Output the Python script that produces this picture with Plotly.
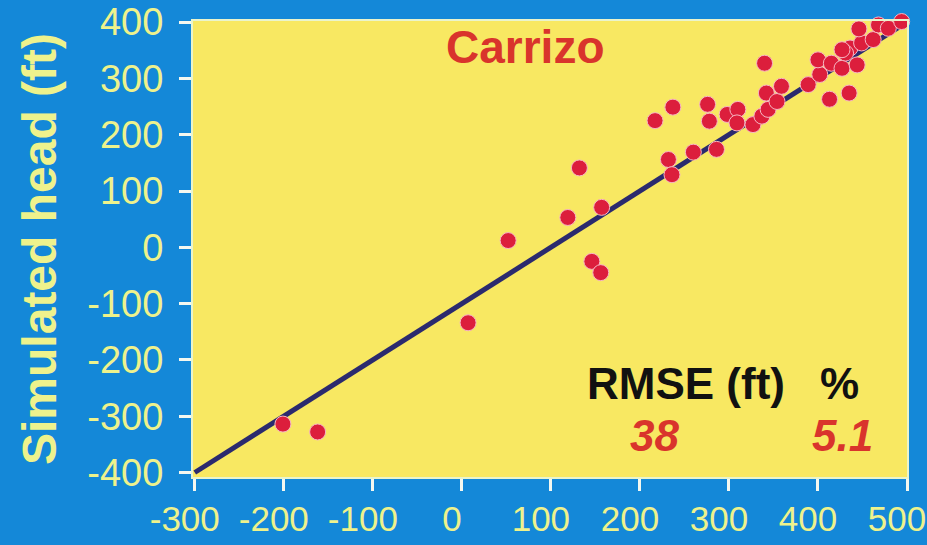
import plotly.graph_objects as go

# Observed (x) vs simulated (y) head, ft
observed = [-201, -162, 7, 52, 119, 132, 146, 156, 157, 217, 237, 232, 236, 260, 276, 278,
            286, 298, 310, 309, 327, 337, 344, 342, 354, 359, 340, 389, 402, 400, 415,
            427, 444, 413, 435, 436, 431, 427, 449, 462, 446, 468, 479, 494]
simulated = [-314, -328, -134, 12, 53, 141, -25, -45, 71, 225, 249, 156, 129, 169, 254, 224,
             174, 236, 245, 221, 218, 233, 245, 274, 259, 286, 327, 289, 307, 333, 327,
             318, 324, 263, 274, 354, 345, 351, 363, 369, 388, 395, 389, 401]

line_x = [-300, 500]
line_y = [-400, 400]

x_ticks = [-300, -200, -100, 0, 100, 200, 300, 400, 500]
y_ticks = [-400, -300, -200, -100, 0, 100, 200, 300, 400]
x_labels = [str(v) for v in x_ticks]
y_labels = [str(v) for v in y_ticks]

BLUE = "#1488d8"
YELLOW = "#f8e862"
LABEL = "#eef28c"
RED = "#d9342c"
FONT = "Liberation Sans"

fig = go.Figure()
fig.add_trace(go.Scatter(x=line_x, y=line_y, mode="lines",
                         line=dict(color="#2b2a6e", width=5), hoverinfo="skip"))
fig.add_trace(go.Scatter(x=observed, y=simulated, mode="markers", cliponaxis=False,
                         marker=dict(size=16, color="#dc1e3c",
                                     line=dict(color="#f6b8c4", width=1))))

axis_common = dict(
    showgrid=False, zeroline=False, automargin=False,
    showline=True, linecolor="#eaf4cc", linewidth=2, mirror=True,
    ticks="outside", ticklen=12, tickwidth=3, tickcolor="#f4f8f0",
)


def note(text, x, y, size, color, italic=False):
    font = dict(family=FONT, size=size, color=color, weight="bold")
    if italic:
        font["style"] = "italic"
    return dict(text=text, x=x, y=y, xref="paper", yref="paper", showarrow=False,
                xanchor="center", yanchor="middle", font=font)


fig.update_layout(
    width=927, height=545,
    paper_bgcolor=BLUE, plot_bgcolor=YELLOW,
    margin=dict(l=193, r=20, t=21, b=68),
    showlegend=False,
    xaxis=dict(range=[-302, 500], tickvals=x_ticks, ticktext=x_labels, tickangle=0,
               ticklabelstandoff=-2, ticklabelshift=-10, ticklabeloverflow="allow",
               tickfont=dict(family=FONT, size=35, color=LABEL),
               **axis_common),
    yaxis=dict(range=[-408, 402], tickvals=y_ticks, ticktext=y_labels,
               ticklabelstandoff=8,
               tickfont=dict(family=FONT, size=38, color=LABEL),
               title=dict(text="Simulated head (ft)", standoff=16,
                          font=dict(family=FONT, size=48, color=LABEL, weight="bold")),
               **axis_common),
    annotations=[
        note("Carrizo", 0.465, 0.943, 46, RED),
        note("RMSE (ft)", 0.690, 0.205, 44, "#111111"),
        note("%", 0.905, 0.205, 44, "#111111"),
        note("38", 0.646, 0.090, 44, RED, italic=True),
        note("5.1", 0.909, 0.090, 44, RED, italic=True),
    ],
)

fig.write_html("out.html", config={"displayModeBar": False},
               post_script="document.body.style.margin='0';")
